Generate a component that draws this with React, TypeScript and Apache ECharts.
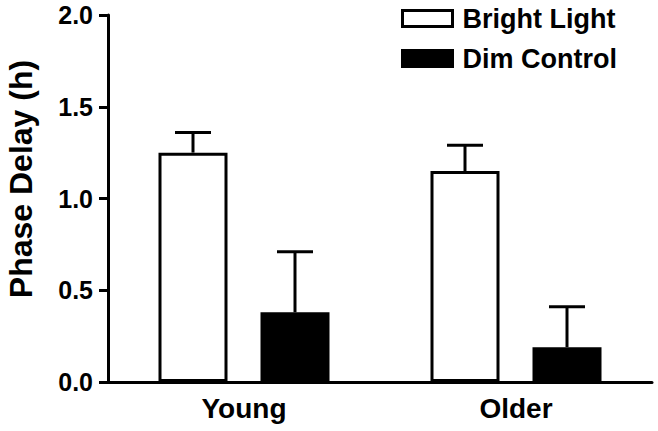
import React, { useEffect, useRef } from "react";
import * as echarts from "echarts";

const categories = ["Young", "Older"];
const brightLight = [1.25, 1.15];
const brightLightErr = [0.11, 0.14];
const dimControl = [0.38, 0.19];
const dimControlErr = [0.33, 0.22];
const yTicks = [0, 0.5, 1.0, 1.5, 2.0];

const FONT = "'Liberation Sans', Arial, Helvetica, sans-serif";
const BAR_WIDTH = 69;
const BAR_GAP_PX = 33;

export default function App() {
  const ref = useRef<HTMLDivElement>(null);
  useEffect(() => {
    if (!ref.current) return;
    const chart = echarts.init(ref.current, undefined, { renderer: "svg" });
    const offset = (BAR_WIDTH + BAR_GAP_PX) / 2;
    const errSeries = (name: string, vals: number[], errs: number[], side: number) => ({
      type: "custom",
      name: name + " err",
      z: 5,
      silent: true,
      data: vals.map((v, i) => [i, v, v + errs[i]]),
      renderItem: (params: any, api: any) => {
        const i = api.value(0);
        const p0 = api.coord([i, api.value(1)]);
        const p1 = api.coord([i, api.value(2)]);
        const x = p0[0] + side * offset;
        const capHalf = 18;
        const style = { stroke: "#000", lineWidth: 3, fill: "none" };
        return {
          type: "group",
          children: [
            { type: "line", shape: { x1: x, y1: p0[1], x2: x, y2: p1[1] }, style },
            { type: "line", shape: { x1: x - capHalf, y1: p1[1], x2: x + capHalf, y2: p1[1] }, style },
          ],
        };
      },
    });
    chart.setOption({
      animation: false,
      backgroundColor: "#fff",
      grid: { left: 108, right: 6, top: 15, bottom: 49, containLabel: false },
      legend: {
        orient: "vertical",
        left: 396,
        top: 0,
        icon: "rect",
        itemWidth: 50,
        itemHeight: 16,
        itemGap: 13,
        selectedMode: false,
        textStyle: { fontFamily: FONT, fontWeight: "bold", fontSize: 27, color: "#000", padding: [0, 0, 0, 5] },
        data: [
          { name: "Bright Light", itemStyle: { color: "#fff", borderColor: "#000", borderWidth: 3 } },
          { name: "Dim Control", itemStyle: { color: "#000", borderColor: "#000", borderWidth: 3 } },
        ],
      },
      graphic: [
        {
          type: "text",
          x: 21,
          y: 179,
          rotation: Math.PI / 2,
          style: {
            text: "Phase Delay (h)",
            font: `bold 32px ${FONT}`,
            fill: "#000",
            textAlign: "center",
            textVerticalAlign: "middle",
          },
        },
      ],
      xAxis: {
        type: "category",
        data: categories,
        z: 10,
        axisLine: { lineStyle: { color: "#000", width: 3 } },
        axisTick: { show: false },
        axisLabel: { fontFamily: FONT, fontWeight: "bold", fontSize: 28, color: "#000", margin: 12 },
      },
      yAxis: {
        type: "value",
        min: yTicks[0],
        max: yTicks[yTicks.length - 1],
        interval: 0.5,
        z: 10,
        axisLine: { show: true, lineStyle: { color: "#000", width: 3 } },
        axisTick: { show: true, length: 9, lineStyle: { color: "#000", width: 3 } },
        splitLine: { show: false },
        axisLabel: {
          fontFamily: FONT,
          fontWeight: "bold",
          fontSize: 25,
          color: "#000",
          margin: 15,
          formatter: (v: number) => v.toFixed(1),
        },
      },
      series: [
        {
          type: "bar",
          name: "Bright Light",
          data: brightLight,
          barWidth: BAR_WIDTH,
          barGap: `${(BAR_GAP_PX / BAR_WIDTH) * 100}%`,
          itemStyle: { color: "#fff", borderColor: "#000", borderWidth: 3 },
          z: 3,
        },
        {
          type: "bar",
          name: "Dim Control",
          data: dimControl,
          barWidth: BAR_WIDTH,
          itemStyle: { color: "#000", borderColor: "#000", borderWidth: 3 },
          z: 3,
        },
        errSeries("Bright Light", brightLight, brightLightErr, -1),
        errSeries("Dim Control", dimControl, dimControlErr, 1),
      ],
    });
    return () => chart.dispose();
  }, []);
  return <div ref={ref} style={{ width: 658, height: 431, position: "absolute", left: 0, top: 0 }} />;
}
